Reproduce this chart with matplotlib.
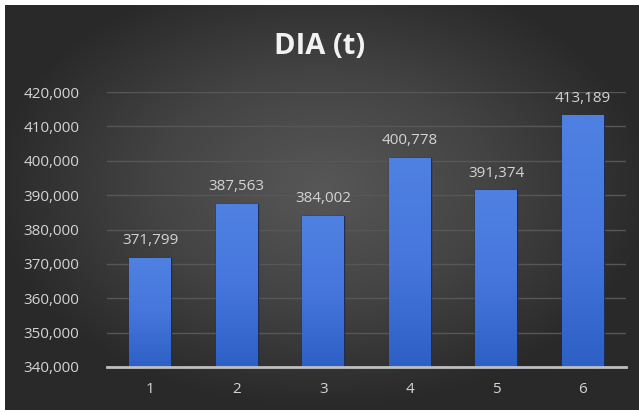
import numpy as np
import matplotlib
matplotlib.use("Agg")
import matplotlib.pyplot as plt
from matplotlib.colors import LinearSegmentedColormap

plt.rcParams['font.family'] = ['Open Sans', 'DejaVu Sans']

categories = ["1", "2", "3", "4", "5", "6"]
values = [371799, 387563, 384002, 400778, 391374, 413189]
y_ticks = [340000, 350000, 360000, 370000, 380000, 390000, 400000, 410000, 420000]
title = "DIA (t)"

W, H = 639, 412
fig = plt.figure(figsize=(W / 100, H / 100), dpi=100)
fig.patch.set_facecolor("white")

# Dark radial-gradient chart background, inset slightly from the image edge
bg = fig.add_axes([5 / W, 2 / H, (W - 5) / W, (H - 7) / H])
bg.set_axis_off()
yy, xx = np.mgrid[-1:1:300j, -1:1:460j]
r = np.clip(np.sqrt((xx / 1.05) ** 2 + ((yy + 0.1) / 1.1) ** 2), 0, 1)
bg_cmap = LinearSegmentedColormap.from_list("bg", ["#575757", "#444444", "#292929"])
bg.imshow(r, cmap=bg_cmap, aspect="auto", extent=[0, 1, 0, 1], vmin=0, vmax=1)
bg.set_xlim(0, 1)
bg.set_ylim(0, 1)

ax = fig.add_axes([107 / W, 1 - 367 / H, (626 - 107) / W, (367 - 92) / H])
ax.set_facecolor("none")
x = np.arange(len(categories))
bars = ax.bar(x, values, width=0.48, color="#4676d8", edgecolor="#1e2e55",
              linewidth=1.0, zorder=3)

# Vertical blue gradient fill inside each bar
grad = np.linspace(0, 1, 256).reshape(-1, 1)
bar_cmap = LinearSegmentedColormap.from_list("bar", ["#2d60c4", "#4676dc", "#4f81e2"])
for b in bars:
    x0, w = b.get_x(), b.get_width()
    y0, h = b.get_y(), b.get_height()
    im = ax.imshow(grad, cmap=bar_cmap, aspect="auto", origin="lower",
                   extent=[x0, x0 + w, 340000, y0 + h], zorder=3.5)
    im.set_clip_path(b)

for xi, v in zip(x, values):
    ax.text(xi, v + 2800, f"{v:,}", ha="center", va="bottom",
            color="#d4d4d4", fontsize=11, zorder=5)

ax.set_xlim(-0.5, len(categories) - 0.5)
ax.set_ylim(340000, 420000)
ax.set_yticks(y_ticks)
ax.set_yticklabels([f"{t:,}" for t in y_ticks])
ax.set_xticks(x)
ax.set_xticklabels(categories)
ax.tick_params(axis="both", length=0, colors="#d4d4d4", labelsize=11)
ax.tick_params(axis="y", pad=20)
ax.tick_params(axis="x", pad=11)
ax.grid(axis="y", color="#575757", linewidth=1.0, zorder=0)
for side in ("top", "right", "left"):
    ax.spines[side].set_visible(False)
ax.spines["bottom"].set_color("#bfbfbf")
ax.spines["bottom"].set_linewidth(2.0)
ax.spines["bottom"].set_zorder(4)

fig.text(320 / W, 1 - 47 / H, title, ha="center", va="center",
         color="#f2f2f2", fontsize=21, fontweight="bold")

fig.savefig("out.png", dpi=100, facecolor=fig.get_facecolor())
